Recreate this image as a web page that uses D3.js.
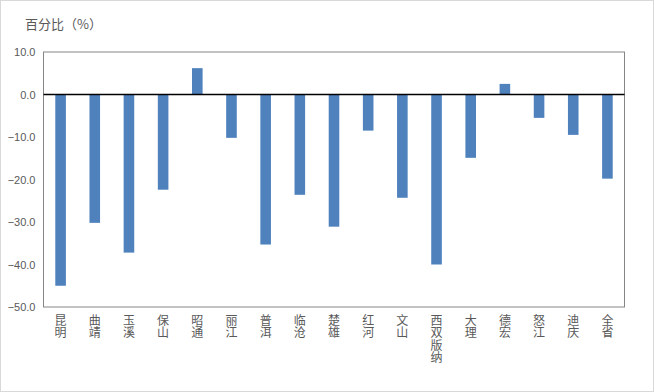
<!DOCTYPE html>
<html><head><meta charset="utf-8">
<script src="https://cdn.jsdelivr.net/npm/d3@7"></script>
<style>body{margin:0;background:#fff;}svg{display:block;font-family:"Noto Sans CJK SC","Liberation Sans",sans-serif;}</style>
</head><body>
<svg id="c" width="654" height="392"></svg>
<script>
const categories = ["昆明","曲靖","玉溪","保山","昭通","丽江","普洱","临沧","楚雄","红河","文山","西双版纳","大理","德宏","怒江","迪庆","全省"];
const values = [-45.0,-30.2,-37.2,-22.4,6.2,-10.2,-35.3,-23.6,-31.1,-8.5,-24.3,-40.0,-14.9,2.5,-5.5,-9.5,-19.8];
const yTicks = [10,0,-10,-20,-30,-40,-50];
const yTitle = "百分比（%）";

const svg = d3.select("#c");
const W = 654, H = 392;
const m = {left:43.5, right:624.5, top:52, bottom:307};

svg.append("rect").attr("x",0.5).attr("y",0.5).attr("width",W-1).attr("height",H-1)
  .attr("fill","#fff").attr("stroke","#d9d9d9");

const x = d3.scaleBand().domain(categories).range([m.left,m.right]).paddingInner(0.69).paddingOuter(0.345);
const y = d3.scaleLinear().domain([-50,10]).range([m.bottom,m.top]);

// plot box
svg.append("rect").attr("x",m.left).attr("y",m.top).attr("width",m.right-m.left).attr("height",m.bottom-m.top)
  .attr("fill","none").attr("stroke","#868686").attr("stroke-width",1);

// bars
svg.append("g").selectAll("rect").data(values).join("rect")
  .attr("x",(d,i)=>x(categories[i]))
  .attr("width",x.bandwidth())
  .attr("y",d=>y(Math.max(0,d)))
  .attr("height",d=>Math.abs(y(d)-y(0)))
  .attr("fill","#4f81bd");

// zero line
svg.append("line").attr("x1",m.left).attr("x2",m.right).attr("y1",y(0)).attr("y2",y(0))
  .attr("stroke","#000").attr("stroke-width",1.5);

// y axis
const ya = svg.append("g").attr("transform",`translate(${m.left},0)`)
  .call(d3.axisLeft(y).tickValues(yTicks).tickFormat(d3.format(".1f")).tickSize(0).tickPadding(8));
ya.select(".domain").remove();
ya.selectAll("text").attr("fill","#595959").style("font-size","11px").style("font-family","'Liberation Sans',Arial,sans-serif");

// x labels, vertical stacked characters
svg.append("g").selectAll("text").data(categories).join("text")
  .attr("x",d=>x(d)+x.bandwidth()/2)
  .attr("y",314)
  .attr("fill","#595959")
  .style("font-size","12px")
  .style("writing-mode","vertical-rl")
  .style("text-orientation","upright")
  .style("letter-spacing","0.5px")
  .text(d=>d);

// title
svg.append("text").attr("x",25).attr("y",29).attr("fill","#595959").style("font-size","13px").text(yTitle);
</script>
</body></html>
